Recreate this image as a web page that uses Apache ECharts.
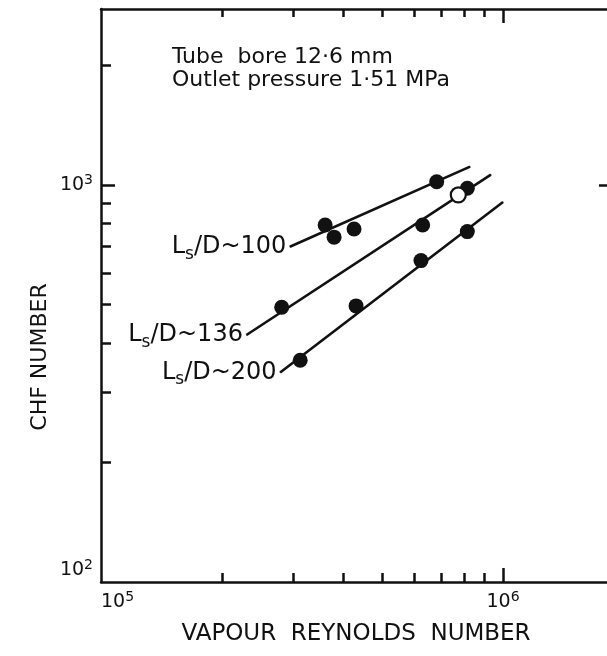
<!DOCTYPE html>
<html>
<head>
<meta charset="utf-8">
<script src="https://cdn.jsdelivr.net/npm/echarts@6/dist/echarts.min.js"></script>
<style>html,body{margin:0;padding:0;background:#fff;}#c{width:607px;height:656px;}</style>
</head>
<body>
<div id="c"></div>
<script>
// ---- data (log-log plot) ----
const xMajorTicks = [1e6];
const xMinorTicks = [2e5, 3e5, 4e5, 5e5, 6e5, 7e5, 8e5, 9e5];
const xLabelValues = [1e5, 1e6];
const yMajorTicks = [1000];
const yMinorTicks = [200, 300, 400, 500, 600, 700, 800, 900, 2000];
const yLabelValues = [100, 1000];

// L/D ~ 100
const re100 = [3.61e5, 3.80e5, 4.26e5, 6.84e5];
const chf100 = [793, 739, 775, 1019];
const re100Fit = [2.95e5, 8.28e5];
const chf100Fit = [699, 1112];
// L/D ~ 136 (filled) and one open point
const re136 = [2.815e5, 6.31e5, 8.15e5];
const chf136 = [492, 793, 981];
const re136Open = [7.74e5];
const chf136Open = [944];
const re136Fit = [2.30e5, 9.33e5];
const chf136Fit = [419, 1062];
// L/D ~ 200
const re200 = [3.13e5, 4.31e5, 6.25e5, 8.15e5];
const chf200 = [362, 496, 645, 763];
const re200Fit = [2.79e5, 1.0e6];
const chf200Fit = [337, 906];

const seriesNames = ['100', '136', '200'];

// ---- styling ----
const FONT = 'DejaVu Sans';
const INK = '#111';
const X_MIN = 1e5, X_MAX = 1.856e6;
const Y_MIN = 100, Y_MAX = 2775;

const zip = (a, b) => a.map((v, i) => [v, b[i]]);

function powLabel(v) {
  const e = Math.round(Math.log10(v));
  return '{b|10}{s|' + e + '}';
}
const powRich = {
  b: { fontSize: 19, fontFamily: FONT, color: INK, lineHeight: 24 },
  s: { fontSize: 14, fontFamily: FONT, color: INK, lineHeight: 10, verticalAlign: 'top' }
};

function xAxisDef(pos, ticks, len, withLine, withLabel) {
  const ax = {
    type: 'log', logBase: 10, position: pos, min: X_MIN, max: X_MAX,
    gridIndex: 0,
    axisLine: { show: withLine, onZero: false, lineStyle: { color: INK, width: 2.5 } },
    axisTick: { show: true, inside: true, length: len, customValues: ticks,
                lineStyle: { color: INK, width: 2.5 } },
    axisLabel: { show: false },
    splitLine: { show: false },
    minorTick: { show: false }
  };
  if (withLabel) {
    ax.axisLabel = {
      show: true, customValues: xLabelValues, formatter: powLabel, rich: powRich,
      margin: 8, alignMinLabel: 'left', color: INK
    };
    ax.name = 'VAPOUR  REYNOLDS  NUMBER';
    ax.nameLocation = 'middle';
    ax.nameGap = 41;
    ax.nameMoveOverlap = false;
    ax.nameTextStyle = { fontSize: 23, fontFamily: FONT, color: INK };
  }
  return ax;
}
function yAxisDef(pos, ticks, len, withLine, withLabel) {
  const ax = {
    type: 'log', logBase: 10, position: pos, min: Y_MIN, max: Y_MAX,
    gridIndex: 0,
    axisLine: { show: withLine, onZero: false, lineStyle: { color: INK, width: 2.5 } },
    axisTick: { show: true, inside: true, length: len, customValues: ticks,
                lineStyle: { color: INK, width: 2.5 } },
    axisLabel: { show: false },
    splitLine: { show: false },
    minorTick: { show: false }
  };
  if (withLabel) {
    ax.axisLabel = {
      show: true, customValues: yLabelValues, formatter: powLabel, rich: powRich,
      margin: 8, verticalAlignMinLabel: 'bottom', color: INK
    };
  }
  return ax;
}

function lineLabel(name) {
  return '{m|L}{sub|s}{m|/D~' + name + '}';
}
const lineRich = {
  m: { fontSize: 24, fontFamily: FONT, color: INK, lineHeight: 32 },
  sub: { fontSize: 17, fontFamily: FONT, color: INK, lineHeight: 5, verticalAlign: 'bottom' }
};

function fitSeries(xs, ys, name) {
  const pts = zip(xs, ys);
  return {
    type: 'line', name: 'fit ' + name, xAxisIndex: 0, yAxisIndex: 0,
    data: [
      { value: pts[0], label: { show: true, position: 'left', distance: 3,
        formatter: lineLabel(name), rich: lineRich } },
      pts[1]
    ],
    symbol: 'circle', symbolSize: 1, showSymbol: true,
    itemStyle: { color: INK },
    lineStyle: { color: INK, width: 2.6 },
    silent: true, animation: false, z: 2
  };
}
function pointSeries(xs, ys, filled, name) {
  return {
    type: 'scatter', name: name, xAxisIndex: 0, yAxisIndex: 0,
    data: zip(xs, ys),
    symbol: 'circle', symbolSize: 15,
    itemStyle: filled ? { color: INK, opacity: 1 }
                      : { color: '#fff', borderColor: INK, borderWidth: 2.2, opacity: 1 },
    animation: false, z: filled ? 3 : 4
  };
}

const option = {
  backgroundColor: '#fff',
  animation: false,
  grid: { left: 101, top: 9, right: -4, bottom: 74, containLabel: false, outerBoundsMode: 'none' },
  xAxis: [
    xAxisDef('bottom', xMajorTicks, 14, true, true),
    xAxisDef('bottom', xMinorTicks, 9, false, false),
    xAxisDef('top', xMajorTicks, 14, true, false),
    xAxisDef('top', xMinorTicks, 8, false, false)
  ],
  yAxis: [
    yAxisDef('left', yMajorTicks, 14, true, true),
    yAxisDef('left', yMinorTicks, 10, false, false),
    yAxisDef('right', yMajorTicks, 12, true, false)
  ],
  graphic: [
    { type: 'text', x: 40, y: 357, rotation: Math.PI / 2,
      style: { text: 'CHF NUMBER', fontSize: 22, fontFamily: FONT, fill: INK,
               align: 'center', verticalAlign: 'middle' } },
    { type: 'text', x: 172, y: 57,
      style: { text: 'Tube  bore 12·6 mm', fontSize: 22, fontFamily: FONT, fill: INK,
               align: 'left', verticalAlign: 'middle' } },
    { type: 'text', x: 172, y: 80,
      style: { text: 'Outlet pressure 1·51 MPa', fontSize: 22, fontFamily: FONT, fill: INK,
               align: 'left', verticalAlign: 'middle' } }
  ],
  series: [
    fitSeries(re100Fit, chf100Fit, seriesNames[0]),
    fitSeries(re136Fit, chf136Fit, seriesNames[1]),
    fitSeries(re200Fit, chf200Fit, seriesNames[2]),
    pointSeries(re100, chf100, true, 'L/D~100'),
    pointSeries(re136, chf136, true, 'L/D~136'),
    pointSeries(re200, chf200, true, 'L/D~200'),
    pointSeries(re136Open, chf136Open, false, 'L/D~136 open')
  ]
};

const chart = echarts.init(document.getElementById('c'), null, { renderer: 'canvas' });
chart.setOption(option);
</script>
</body>
</html>
